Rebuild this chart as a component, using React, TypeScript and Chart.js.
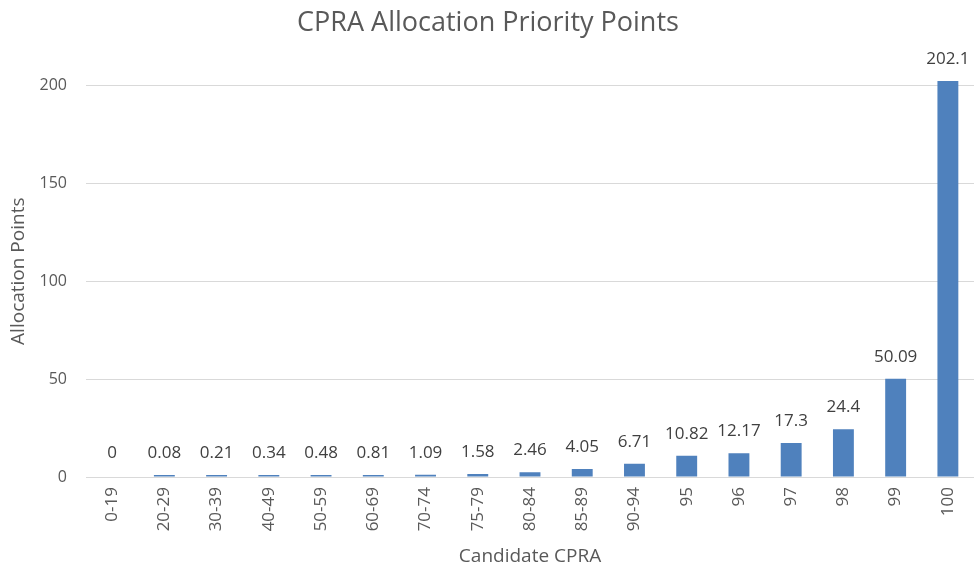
import React, { useEffect, useRef } from "react";
import { Chart, registerables } from "chart.js";

Chart.register(...registerables);

const categories = ["0-19", "20-29", "30-39", "40-49", "50-59", "60-69", "70-74", "75-79", "80-84", "85-89", "90-94", "95", "96", "97", "98", "99", "100"];
const points = [0, 0.08, 0.21, 0.34, 0.48, 0.81, 1.09, 1.58, 2.46, 4.05, 6.71, 10.82, 12.17, 17.3, 24.4, 50.09, 202.1];
const yTicks = [0, 50, 100, 150, 200];

const FONT = "'Open Sans', sans-serif";
const TEXT = "#595959";

const dataLabels = {
  id: "dataLabels",
  afterDatasetsDraw(chart: any) {
    const ctx = chart.ctx;
    const xs = chart.scales.x;
    const ys = chart.scales.y;
    ctx.save();
    ctx.font = `17px ${FONT}`;
    ctx.fillStyle = "#404040";
    ctx.textAlign = "center";
    ctx.textBaseline = "middle";
    points.forEach((v, i) => {
      const x = xs.getPixelForValue(i);
      const top = Math.min(ys.getPixelForValue(v), ys.getPixelForValue(0) - 2);
      ctx.fillText(String(v), x, top - 22);
    });
    ctx.restore();
  },
};

export default function App() {
  const ref = useRef<HTMLCanvasElement | null>(null);
  useEffect(() => {
    document.body.style.margin = "0";
    const chart = new Chart(ref.current as HTMLCanvasElement, {
      type: "bar",
      data: {
        labels: categories,
        datasets: [
          {
            data: points.map((v) => (v === 0 ? null : v)),
            backgroundColor: "#4f81bd",
            barPercentage: 0.4,
            categoryPercentage: 1,
            minBarLength: 2,
          },
        ],
      },
      plugins: [dataLabels],
      options: {
        animation: false,
        responsive: false,
        maintainAspectRatio: false,
        layout: { padding: { left: 0, top: 0, bottom: 0, right: -2 } },
        plugins: {
          legend: { display: false },
          tooltip: { enabled: false },
          title: {
            display: true,
            text: "CPRA Allocation Priority Points",
            color: TEXT,
            font: { family: FONT, size: 27, weight: "normal" },
            padding: { top: 7, bottom: 26 },
          },
        },
        scales: {
          x: {
            grid: { display: false, drawTicks: false },
            border: { display: false },
            ticks: {
              color: TEXT,
              font: { family: FONT, size: 17 },
              minRotation: 90,
              maxRotation: 90,
              padding: 10,
              autoSkip: false,
            },
            title: {
              display: true,
              text: "Candidate CPRA",
              color: TEXT,
              font: { family: FONT, size: 19 },
              padding: { top: 0, bottom: 1 },
            },
            afterFit(scale: any) {
              scale.height = 92;
              scale.paddingLeft = 0;
              scale.paddingRight = 0;
            },
          },
          y: {
            min: 0,
            max: 210,
            grid: { color: "#d9d9d9", drawTicks: false, lineWidth: 1 },
            border: { display: false },
            ticks: {
              color: TEXT,
              font: { family: FONT, size: 16 },
              padding: 19,
            },
            afterBuildTicks(scale: any) {
              scale.ticks = yTicks.map((v) => ({ value: v }));
            },
            title: {
              display: true,
              text: "Allocation Points",
              color: TEXT,
              font: { family: FONT, size: 19 },
              padding: { top: 7, bottom: 0 },
            },
            afterFit(scale: any) {
              scale.width = 86;
              scale.paddingTop = 0;
              scale.paddingBottom = 0;
            },
          },
        },
      },
    });
    return () => chart.destroy();
  }, []);
  return (
    <div style={{ position: "absolute", left: 0, top: 0, width: 974, height: 569 }}>
      <canvas ref={ref} width={974} height={569} />
    </div>
  );
}
